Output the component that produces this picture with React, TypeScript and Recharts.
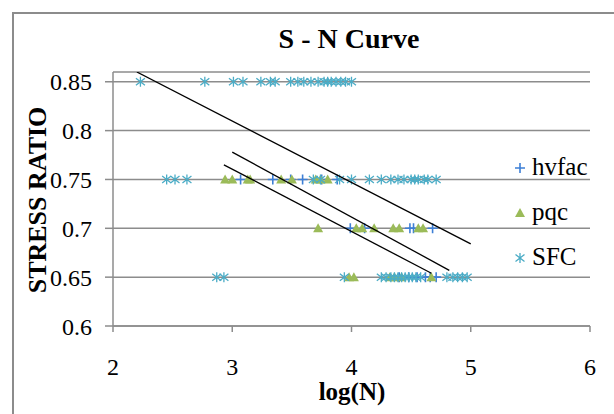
import { ScatterChart, Scatter, XAxis, YAxis, CartesianGrid, Label } from 'recharts'

const xTicks = [2, 3, 4, 5, 6]
const yTicks = [0.6, 0.65, 0.7, 0.75, 0.8, 0.85]

// log(N) values, one list per stress ratio
const hvfac75 = [3.07, 3.34, 3.49, 3.59, 3.75, 3.88]
const hvfac70 = [3.99, 4.11, 4.49, 4.52, 4.68]
const hvfac65 = [4.4, 4.48, 4.55, 4.62, 4.66, 4.71]

const pqc75 = [2.94, 3.0, 3.13, 3.15, 3.41, 3.5, 3.7, 3.74, 3.8]
const pqc70 = [3.72, 4.04, 4.09, 4.19, 4.35, 4.4, 4.56, 4.6]
const pqc65 = [3.98, 4.02, 4.32, 4.36, 4.42, 4.67]

const sfc85 = [2.23, 2.77, 3.01, 3.09, 3.24, 3.32, 3.36, 3.49, 3.55, 3.6, 3.66, 3.72, 3.77, 3.8, 3.83, 3.87, 3.91, 3.95, 4.0]
const sfc75 = [2.45, 2.52, 2.62, 3.68, 3.74, 3.9, 4.0, 4.15, 4.25, 4.33, 4.39, 4.44, 4.5, 4.53, 4.56, 4.61, 4.64, 4.71]
const sfc65 = [2.87, 2.93, 3.94, 4.25, 4.29, 4.33, 4.36, 4.39, 4.42, 4.45, 4.48, 4.51, 4.54, 4.58, 4.8, 4.85, 4.89, 4.93, 4.97]

// trendline end points
const hvfacTrend = [{ logN: 3.0, ratio: 0.778 }, { logN: 4.82, ratio: 0.657 }]
const pqcTrend = [{ logN: 2.93, ratio: 0.765 }, { logN: 4.67, ratio: 0.654 }]
const sfcTrend = [{ logN: 2.2, ratio: 0.86 }, { logN: 5.0, ratio: 0.684 }]

const rows = (ratio: number, xs: number[]) => xs.map((logN) => ({ logN, ratio }))

const hvfac = [...rows(0.75, hvfac75), ...rows(0.7, hvfac70), ...rows(0.65, hvfac65)]
const pqc = [...rows(0.75, pqc75), ...rows(0.7, pqc70), ...rows(0.65, pqc65)]
const sfc = [...rows(0.85, sfc85), ...rows(0.75, sfc75), ...rows(0.65, sfc65)]

const BLUE = '#3d7fd6'
const GREEN = '#9bbb59'
const CYAN = '#4bacc6'
const GRID = '#8c8c8c'
const FONT = '"Liberation Serif", "Times New Roman", serif'

const Plus = ({ cx, cy }: any) => (
  <path d={`M${cx - 5},${cy}H${cx + 5}M${cx},${cy - 5}V${cy + 5}`} stroke={BLUE} strokeWidth={1.6} fill="none" />
)
const Tri = ({ cx, cy }: any) => (
  <path d={`M${cx},${cy - 5}L${cx + 5},${cy + 4}L${cx - 5},${cy + 4}Z`} fill={GREEN} />
)
const Star = ({ cx, cy }: any) => (
  <path
    d={`M${cx},${cy - 5}V${cy + 5}M${cx - 4.5},${cy - 3.5}L${cx + 4.5},${cy + 3.5}M${cx - 4.5},${cy + 3.5}L${cx + 4.5},${cy - 3.5}`}
    stroke={CYAN}
    strokeWidth={1.3}
    fill="none"
  />
)
const Nothing = () => <g />

const legendItems = [
  { name: 'hvfac', Marker: Plus, y: 168 },
  { name: 'pqc', Marker: Tri, y: 213 },
  { name: 'SFC', Marker: Star, y: 258 },
]

export default function App() {
  return (
    <div style={{ position: 'fixed', left: 0, top: 0, width: 614, height: 414, overflow: 'hidden', background: '#fff', fontFamily: FONT }}>
      <div style={{ position: 'absolute', left: 12, top: 12, width: 800, height: 600, border: '2px solid #8c8c8c' }} />
      <div style={{ position: 'absolute', left: 249, top: 25, width: 200, textAlign: 'center', fontSize: 28, fontWeight: 'bold', lineHeight: '28px' }}>
        S - N Curve
      </div>
      <div style={{ position: 'absolute', left: 0, top: 0 }}>
        <ScatterChart width={614} height={414} margin={{ top: 72, right: 24, bottom: 28, left: 0 }}>
          <CartesianGrid horizontal vertical={false} stroke={GRID} strokeWidth={1.5} />
          <XAxis
            type="number"
            dataKey="logN"
            domain={[2, 6]}
            ticks={xTicks}
            height={60}
            stroke={GRID}
            strokeWidth={1.5}
            tickSize={6}
            tickMargin={26}
            tick={{ fill: '#000', fontSize: 24, fontFamily: FONT }}
          >
            <Label
              content={() => (
                <text x={352} y={400} textAnchor="middle" fontSize={25} fontWeight="bold" fontFamily={FONT} fill="#000">
                  log(N)
                </text>
              )}
            />
          </XAxis>
          <YAxis
            type="number"
            dataKey="ratio"
            domain={[0.6, 0.86]}
            ticks={yTicks}
            width={113}
            allowDataOverflow
            stroke={GRID}
            strokeWidth={1.5}
            tickSize={8}
            tickMargin={13}
            tick={{ fill: '#000', fontSize: 24, fontFamily: FONT }}
          >
            <Label
              content={() => (
                <text x={46} y={200} transform="rotate(-90 46 200)" textAnchor="middle" fontSize={26} fontWeight="bold" fontFamily={FONT} fill="#000">
                  STRESS RATIO
                </text>
              )}
            />
          </YAxis>
          <Scatter data={hvfac} shape={Plus} isAnimationActive={false} />
          <Scatter data={pqc} shape={Tri} isAnimationActive={false} />
          <Scatter data={sfc} shape={Star} isAnimationActive={false} />
          <Scatter data={hvfacTrend} shape={Nothing} line={{ stroke: '#000', strokeWidth: 1.3 }} isAnimationActive={false} />
          <Scatter data={pqcTrend} shape={Nothing} line={{ stroke: '#000', strokeWidth: 1.3 }} isAnimationActive={false} />
          <Scatter data={sfcTrend} shape={Nothing} line={{ stroke: '#000', strokeWidth: 1.3 }} isAnimationActive={false} />
        </ScatterChart>
      </div>
      {legendItems.map(({ name, Marker, y }) => (
        <div key={name}>
          <svg style={{ position: 'absolute', left: 510, top: y - 10 }} width={20} height={20}>
            <Marker cx={10} cy={10} />
          </svg>
          <div style={{ position: 'absolute', left: 532, top: y - 16, fontSize: 25, lineHeight: '30px' }}>{name}</div>
        </div>
      ))}
    </div>
  )
}
